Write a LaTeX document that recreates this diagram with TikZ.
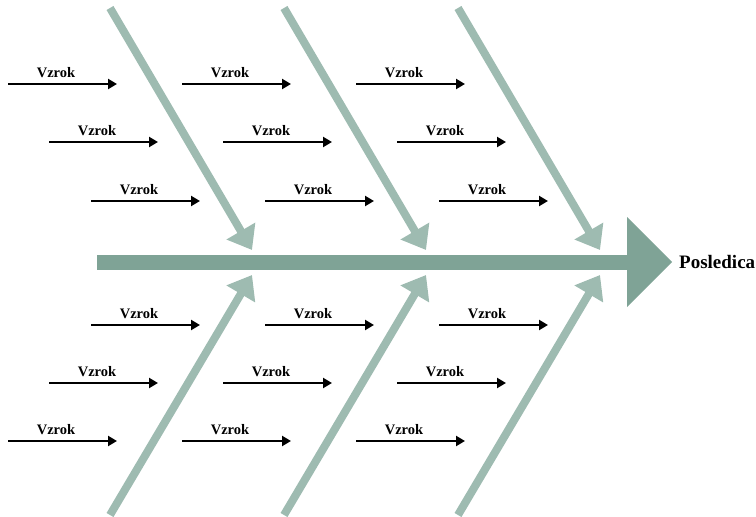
\documentclass[tikz,border=0pt]{standalone}
\usepackage{fontspec}
\setmainfont{Liberation Serif}
\usetikzlibrary{arrows.meta}
\definecolor{spine}{HTML}{7FA396}
\definecolor{bone}{HTML}{9EBBB1}
\begin{document}
\begin{tikzpicture}[x=1pt,y=-1pt,
  bonearrow/.style={draw=bone,line width=8pt,-{Triangle[length=22pt,width=32pt,fill=bone]}},
  causearrow/.style={draw=black,line width=2.2pt,-{Triangle[length=9pt,width=10pt]}},
  causelabel/.style={font=\bfseries\fontsize{14.5}{16}\selectfont,inner sep=0pt},
  efflabel/.style={font=\bfseries\fontsize{19}{21}\selectfont,inner sep=0pt,anchor=west}]
\useasboundingbox (0,0) rectangle (756,517);
% spine
\fill[spine] (97,255) rectangle (629,270);
\fill[spine] (627,217) -- (672,262) -- (627,307) -- cycle;
\node[efflabel] (eff) at (679,262) {Posledica};
% bones
\foreach \i/\dx in {1/0,2/174,3/348}{
  \coordinate (ut\i) at (110+\dx,8);
  \coordinate (uh\i) at (252+\dx,250);
  \coordinate (lt\i) at (110+\dx,515);
  \coordinate (lh\i) at (252+\dx,275);
  \draw[bonearrow] (ut\i) -- (uh\i);
  \draw[bonearrow] (lt\i) -- (lh\i);
}
% causes
\foreach \y/\x in {84/8,142/49,201/91,325/91,383/49,441/8}{
  \foreach \dx in {0,174,348}{
    \coordinate (cs) at (\x+\dx,\y);
    \coordinate (ce) at (\x+\dx+109,\y);
    \draw[causearrow] (cs) -- (ce);
    \node[causelabel,anchor=base] (cl) at (\x+\dx+48,\y-7) {Vzrok};
  }
}
\end{tikzpicture}
\end{document}
